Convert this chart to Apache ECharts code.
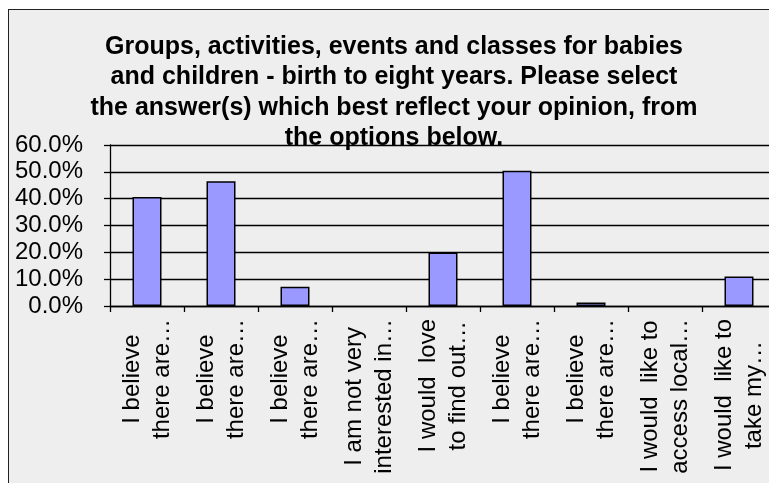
<!DOCTYPE html>
<html>
<head>
<meta charset="utf-8">
<script src="https://cdn.jsdelivr.net/npm/echarts@6/dist/echarts.min.js"></script>
<style>
  html, body { margin: 0; padding: 0; background: #fff; overflow: hidden; width: 769px; height: 483px; }
  #frame { position: absolute; left: 8px; top: 9px; width: 800px; height: 520px; border: 1.5px solid #222; background: #eeeeee; }
  #chart { position: absolute; left: 0; top: 0; width: 800px; height: 483px; }
</style>
</head>
<body>
<div id="frame"></div>
<div id="chart"></div>
<script>
// Survey answers, share of respondents (%)
const titleText = 'Groups, activities, events and classes for babies\nand children - birth to eight years. Please select\nthe answer(s) which best reflect your opinion, from\nthe options below.';
const categories = [
  'I believe\nthere are…',
  'I believe\nthere are…',
  'I believe\nthere are…',
  'I am not very\ninterested in…',
  'I would  love\nto find out…',
  'I believe\nthere are…',
  'I believe\nthere are…',
  'I would  like to\naccess local…',
  'I would  like to\ntake my…'
];
const values = [40.6, 46.5, 7.2, 0, 19.9, 50.4, 1.3, 0, 11.0];
const yTicks = [0, 10, 20, 30, 40, 50, 60];

const chart = echarts.init(document.getElementById('chart'), null, { renderer: 'canvas' });
const font = 'Liberation Sans, Arial, sans-serif';

chart.setOption({
  backgroundColor: 'transparent',
  animation: false,
  title: {
    text: titleText,
    left: 394,
    top: 32,
    padding: 0,
    textAlign: 'center',
    textStyle: { fontFamily: font, fontSize: 25, fontWeight: 'bold', color: '#000', lineHeight: 30.3 }
  },
  grid: { left: 110, top: 145, width: 666, height: 161, containLabel: false },
  xAxis: {
    type: 'category',
    data: categories,
    axisLine: { show: true, lineStyle: { color: '#000', width: 1.3 } },
    axisTick: { show: true, length: 6, lineStyle: { color: '#000', width: 1.3 } },
    axisLabel: {
      interval: 0,
      rotate: 90,
      margin: 13,
      fontFamily: font,
      fontSize: 24,
      color: '#000',
      lineHeight: 30,
      formatter: v => v.split('\n').map(s => '{c|' + s + '}').join('\n'),
      rich: { c: { align: 'center', fontFamily: font, fontSize: 24, lineHeight: 30, color: '#000' } }
    }
  },
  yAxis: {
    type: 'value',
    min: yTicks[0],
    max: yTicks[yTicks.length - 1],
    interval: 10,
    axisLine: { show: true, lineStyle: { color: '#000', width: 1.3 } },
    axisTick: { show: true, length: 6, lineStyle: { color: '#000', width: 1.3 } },
    axisLabel: {
      margin: 27,
      fontFamily: font,
      fontSize: 24,
      color: '#000',
      formatter: v => v.toFixed(1) + '%'
    },
    splitLine: { show: true, lineStyle: { color: '#000', width: 1.3 } }
  },
  series: [{
    type: 'bar',
    // zero answers draw no bar at all
    data: values.map(v => (v === 0 ? '-' : v)),
    barWidth: 29,
    itemStyle: { color: '#9999ff', borderColor: '#000', borderWidth: 1.5 }
  }]
});
</script>
</body>
</html>
